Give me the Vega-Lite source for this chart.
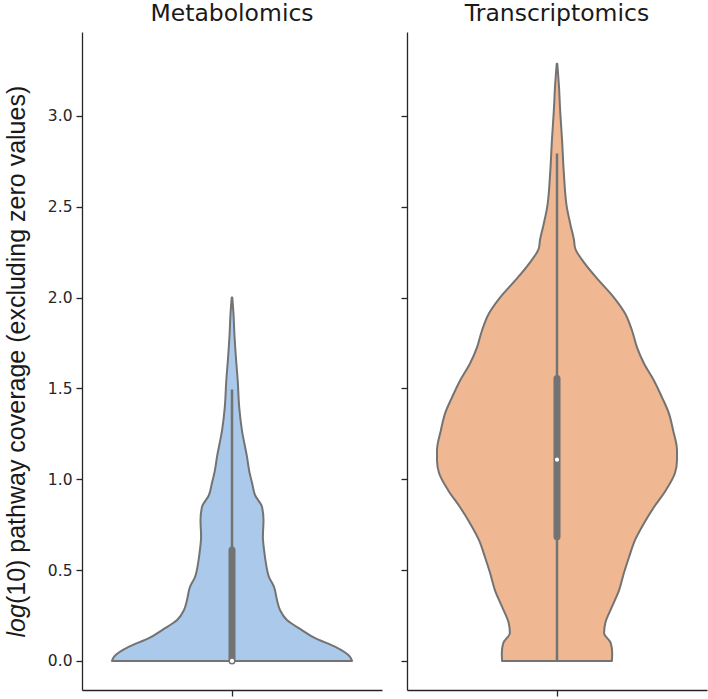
{
  "$schema": "https://vega.github.io/schema/vega-lite/v6.json",
  "padding": {"left": 4, "top": 2, "right": 1, "bottom": 2},
  "background": "white",
  "config": {
    "font": "DejaVu Sans",
    "view": {"stroke": null},
    "axis": {
      "grid": false,
      "domainColor": "#262626",
      "domainWidth": 1.3,
      "tickColor": "#262626",
      "tickWidth": 1.3,
      "tickSize": 6,
      "labelColor": "#262626",
      "labelFont": "DejaVu Sans",
      "labelFontSize": 15.5,
      "labelPadding": 4
    },
    "title": {"font": "DejaVu Sans", "fontSize": 23.5, "fontWeight": "normal", "color": "#1a1a1a", "offset": 6.5}
  },
  "datasets": {
    "violin": [
      {"panel": "Metabolomics", "v": 0, "lo": -0.4, "hi": 0.4},
      {"panel": "Metabolomics", "v": 0.024, "lo": -0.393, "hi": 0.393},
      {"panel": "Metabolomics", "v": 0.079, "lo": -0.343, "hi": 0.343},
      {"panel": "Metabolomics", "v": 0.125, "lo": -0.277, "hi": 0.277},
      {"panel": "Metabolomics", "v": 0.17, "lo": -0.233, "hi": 0.233},
      {"panel": "Metabolomics", "v": 0.225, "lo": -0.183, "hi": 0.183},
      {"panel": "Metabolomics", "v": 0.28, "lo": -0.16, "hi": 0.16},
      {"panel": "Metabolomics", "v": 0.335, "lo": -0.15, "hi": 0.15},
      {"panel": "Metabolomics", "v": 0.408, "lo": -0.14, "hi": 0.14},
      {"panel": "Metabolomics", "v": 0.463, "lo": -0.123, "hi": 0.123},
      {"panel": "Metabolomics", "v": 0.538, "lo": -0.113, "hi": 0.113},
      {"panel": "Metabolomics", "v": 0.61, "lo": -0.107, "hi": 0.107},
      {"panel": "Metabolomics", "v": 0.683, "lo": -0.103, "hi": 0.103},
      {"panel": "Metabolomics", "v": 0.775, "lo": -0.105, "hi": 0.105},
      {"panel": "Metabolomics", "v": 0.848, "lo": -0.1, "hi": 0.1},
      {"panel": "Metabolomics", "v": 0.912, "lo": -0.077, "hi": 0.077},
      {"panel": "Metabolomics", "v": 0.978, "lo": -0.067, "hi": 0.067},
      {"panel": "Metabolomics", "v": 1.049, "lo": -0.057, "hi": 0.057},
      {"panel": "Metabolomics", "v": 1.123, "lo": -0.05, "hi": 0.05},
      {"panel": "Metabolomics", "v": 1.27, "lo": -0.033, "hi": 0.033},
      {"panel": "Metabolomics", "v": 1.397, "lo": -0.024, "hi": 0.024},
      {"panel": "Metabolomics", "v": 1.544, "lo": -0.019, "hi": 0.019},
      {"panel": "Metabolomics", "v": 1.672, "lo": -0.013, "hi": 0.013},
      {"panel": "Metabolomics", "v": 1.8, "lo": -0.008, "hi": 0.008},
      {"panel": "Metabolomics", "v": 1.91, "lo": -0.005, "hi": 0.005},
      {"panel": "Metabolomics", "v": 2.0, "lo": -0.001, "hi": 0.001},
      {"panel": "Transcriptomics", "v": 0, "lo": -0.183, "hi": 0.183},
      {"panel": "Transcriptomics", "v": 0.044, "lo": -0.184, "hi": 0.184},
      {"panel": "Transcriptomics", "v": 0.099, "lo": -0.179, "hi": 0.179},
      {"panel": "Transcriptomics", "v": 0.154, "lo": -0.157, "hi": 0.157},
      {"panel": "Transcriptomics", "v": 0.209, "lo": -0.161, "hi": 0.161},
      {"panel": "Transcriptomics", "v": 0.297, "lo": -0.183, "hi": 0.183},
      {"panel": "Transcriptomics", "v": 0.39, "lo": -0.207, "hi": 0.207},
      {"panel": "Transcriptomics", "v": 0.484, "lo": -0.223, "hi": 0.223},
      {"panel": "Transcriptomics", "v": 0.571, "lo": -0.24, "hi": 0.24},
      {"panel": "Transcriptomics", "v": 0.665, "lo": -0.26, "hi": 0.26},
      {"panel": "Transcriptomics", "v": 0.758, "lo": -0.29, "hi": 0.29},
      {"panel": "Transcriptomics", "v": 0.846, "lo": -0.323, "hi": 0.323},
      {"panel": "Transcriptomics", "v": 0.94, "lo": -0.363, "hi": 0.363},
      {"panel": "Transcriptomics", "v": 1.033, "lo": -0.393, "hi": 0.393},
      {"panel": "Transcriptomics", "v": 1.104, "lo": -0.4, "hi": 0.4},
      {"panel": "Transcriptomics", "v": 1.16, "lo": -0.4, "hi": 0.4},
      {"panel": "Transcriptomics", "v": 1.27, "lo": -0.387, "hi": 0.387},
      {"panel": "Transcriptomics", "v": 1.363, "lo": -0.373, "hi": 0.373},
      {"panel": "Transcriptomics", "v": 1.451, "lo": -0.35, "hi": 0.35},
      {"panel": "Transcriptomics", "v": 1.544, "lo": -0.323, "hi": 0.323},
      {"panel": "Transcriptomics", "v": 1.637, "lo": -0.29, "hi": 0.29},
      {"panel": "Transcriptomics", "v": 1.725, "lo": -0.267, "hi": 0.267},
      {"panel": "Transcriptomics", "v": 1.819, "lo": -0.25, "hi": 0.25},
      {"panel": "Transcriptomics", "v": 1.912, "lo": -0.227, "hi": 0.227},
      {"panel": "Transcriptomics", "v": 2.0, "lo": -0.19, "hi": 0.19},
      {"panel": "Transcriptomics", "v": 2.093, "lo": -0.14, "hi": 0.14},
      {"panel": "Transcriptomics", "v": 2.187, "lo": -0.093, "hi": 0.093},
      {"panel": "Transcriptomics", "v": 2.275, "lo": -0.06, "hi": 0.06},
      {"panel": "Transcriptomics", "v": 2.313, "lo": -0.057, "hi": 0.057},
      {"panel": "Transcriptomics", "v": 2.4, "lo": -0.045, "hi": 0.045},
      {"panel": "Transcriptomics", "v": 2.495, "lo": -0.033, "hi": 0.033},
      {"panel": "Transcriptomics", "v": 2.68, "lo": -0.023, "hi": 0.023},
      {"panel": "Transcriptomics", "v": 2.863, "lo": -0.017, "hi": 0.017},
      {"panel": "Transcriptomics", "v": 3.046, "lo": -0.01, "hi": 0.01},
      {"panel": "Transcriptomics", "v": 3.15, "lo": -0.007, "hi": 0.007},
      {"panel": "Transcriptomics", "v": 3.287, "lo": -0.001, "hi": 0.001}
    ],
    "box": [
      {"panel": "Metabolomics", "pos": 0, "wlo": 0, "whi": 1.494, "q1": 0, "q3": 0.61, "med": 0},
      {"panel": "Transcriptomics", "pos": 0, "wlo": 0, "whi": 2.793, "q1": 0.683, "q3": 1.555, "med": 1.108}
    ]
  },
  "spacing": 18,
  "hconcat": [
    {
      "width": 300,
      "height": 658,
      "title": {"text": "Metabolomics"},
      "resolve": {"axis": {"y": "independent"}},
      "layer": [
        {
          "data": {"name": "violin"},
          "transform": [{"filter": "datum.panel === 'Metabolomics'"}],
          "mark": {"type": "area", "orient": "horizontal", "interpolate": "monotone", "fill": "#abc9ea", "stroke": "#737373", "strokeWidth": 2, "strokeJoin": "round"},
          "encoding": {
            "y": {"field": "v", "type": "quantitative", "scale": {"domain": [-0.16, 3.462], "nice": false, "zero": false},
              "axis": {"orient": "left", "values": [0, 0.5, 1, 1.5, 2, 2.5, 3], "format": ".1f", "title": "(10) pathway coverage (excluding zero values)", "titleFont": "Liberation Sans", "titleFontSize": 25, "titleFontWeight": "normal", "titleColor": "#1a1a1a", "titleAngle": -90, "titleAlign": "left", "titleBaseline": "alphabetic", "titleX": -58, "titleY": 571.6}},
            "x": {"field": "lo", "type": "quantitative", "scale": {"domain": [-0.5, 0.5], "nice": false, "zero": false},
              "axis": {"values": [0], "labels": false, "title": null}},
            "x2": {"field": "hi"}
          }
        },
        {
          "data": {"name": "box"},
          "transform": [{"filter": "datum.panel === 'Metabolomics'"}],
          "mark": {"type": "rule", "color": "#737373", "strokeWidth": 2.5},
          "encoding": {
            "x": {"field": "pos", "type": "quantitative"},
            "y": {"field": "wlo", "type": "quantitative",
              "axis": {"orient": "left", "title": "log", "labels": false, "ticks": false, "domain": false, "titleFont": "Liberation Sans", "titleFontSize": 25, "titleFontWeight": "normal", "titleFontStyle": "italic", "titleColor": "#1a1a1a", "titleAngle": -90, "titleAlign": "left", "titleBaseline": "alphabetic", "titleX": -58, "titleY": 605}},
            "y2": {"field": "whi"}
          }
        },
        {
          "data": {"name": "box"},
          "transform": [{"filter": "datum.panel === 'Metabolomics'"}],
          "mark": {"type": "rule", "color": "#737373", "strokeWidth": 7, "strokeCap": "round"},
          "encoding": {
            "x": {"field": "pos", "type": "quantitative"},
            "y": {"field": "q1", "type": "quantitative", "axis": null},
            "y2": {"field": "q3"}
          }
        },
        {
          "data": {"name": "box"},
          "transform": [{"filter": "datum.panel === 'Metabolomics'"}],
          "mark": {"type": "point", "filled": true, "color": "white", "opacity": 1, "size": 18},
          "encoding": {
            "x": {"field": "pos", "type": "quantitative"},
            "y": {"field": "med", "type": "quantitative", "axis": null}
          }
        }
      ]
    },
    {
      "width": 300,
      "height": 658,
      "title": {"text": "Transcriptomics"},
      "layer": [
        {
          "data": {"name": "violin"},
          "transform": [{"filter": "datum.panel === 'Transcriptomics'"}],
          "mark": {"type": "area", "orient": "horizontal", "interpolate": "monotone", "fill": "#efb792", "stroke": "#737373", "strokeWidth": 2, "strokeJoin": "round"},
          "encoding": {
            "y": {"field": "v", "type": "quantitative", "scale": {"domain": [-0.16, 3.462], "nice": false, "zero": false},
              "axis": {"values": [0, 0.5, 1, 1.5, 2, 2.5, 3], "labels": false, "title": null}},
            "x": {"field": "lo", "type": "quantitative", "scale": {"domain": [-0.5, 0.5], "nice": false, "zero": false},
              "axis": {"values": [0], "labels": false, "title": null}},
            "x2": {"field": "hi"}
          }
        },
        {
          "data": {"name": "box"},
          "transform": [{"filter": "datum.panel === 'Transcriptomics'"}],
          "mark": {"type": "rule", "color": "#737373", "strokeWidth": 2.5},
          "encoding": {
            "x": {"field": "pos", "type": "quantitative"},
            "y": {"field": "wlo", "type": "quantitative"},
            "y2": {"field": "whi"}
          }
        },
        {
          "data": {"name": "box"},
          "transform": [{"filter": "datum.panel === 'Transcriptomics'"}],
          "mark": {"type": "rule", "color": "#737373", "strokeWidth": 7, "strokeCap": "round"},
          "encoding": {
            "x": {"field": "pos", "type": "quantitative"},
            "y": {"field": "q1", "type": "quantitative"},
            "y2": {"field": "q3"}
          }
        },
        {
          "data": {"name": "box"},
          "transform": [{"filter": "datum.panel === 'Transcriptomics'"}],
          "mark": {"type": "point", "filled": true, "color": "white", "opacity": 1, "size": 18},
          "encoding": {
            "x": {"field": "pos", "type": "quantitative"},
            "y": {"field": "med", "type": "quantitative"}
          }
        }
      ]
    }
  ]
}
